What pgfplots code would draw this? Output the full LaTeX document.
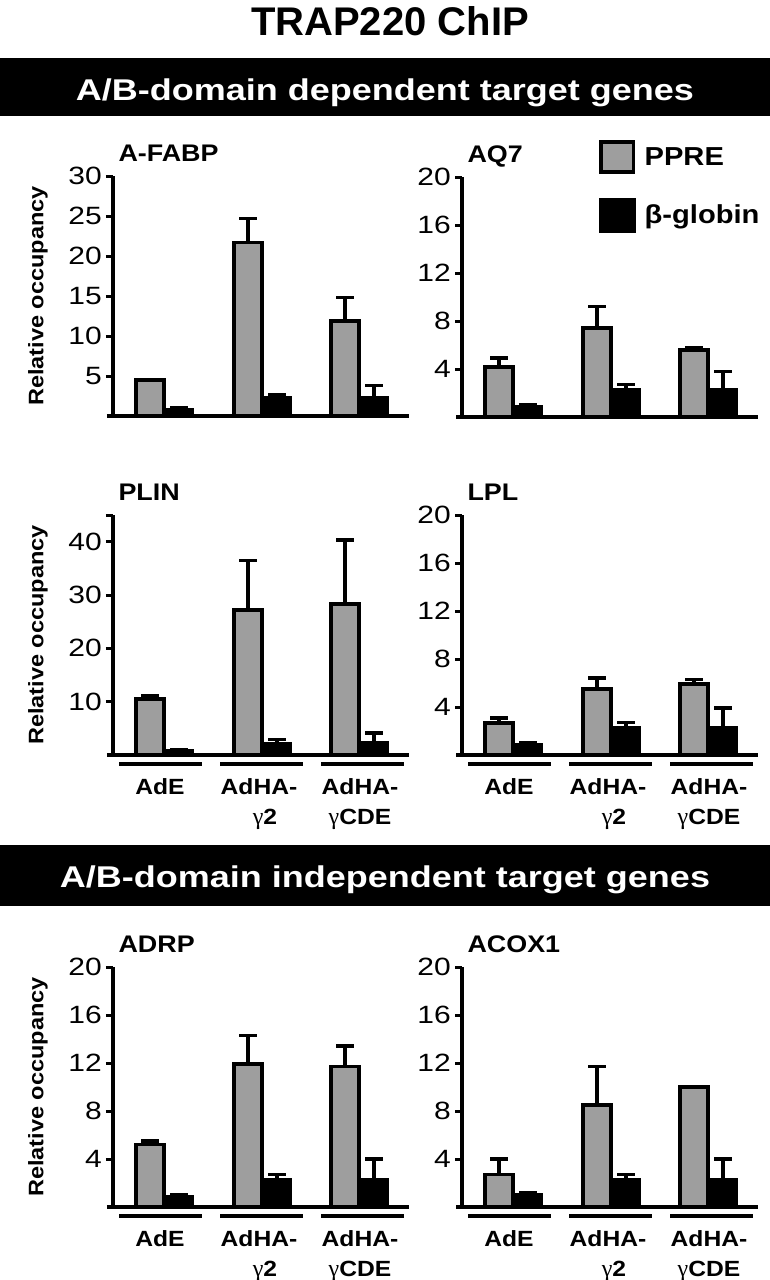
\documentclass[border=0pt]{standalone}
\usepackage{fontspec}
\setmainfont{Liberation Sans}
\newfontfamily\pf[FakeStretch=1.12]{Liberation Sans}
\newfontfamily\tf[FakeStretch=1.2]{Liberation Sans}
\newfontfamily\bannerfont[FakeStretch=1.2]{Liberation Sans}
\newfontfamily\gf{Liberation Serif}
\usepackage{pgfplots}
\pgfplotsset{compat=1.18}
\definecolor{barGray}{RGB}{158,158,158}
\pgfplotsset{
 panel/.style={
  scale only axis, width=296pt, height=240pt, xmin=0, xmax=296, ymin=0,
  anchor=south west, clip=false,
  axis x line=bottom, axis y line=left,
  axis line style={-, line width=4.5pt, black},
  x axis line style={shorten <=-6pt},
  tick align=outside, major tick length=7pt,
  ytick style={line width=3pt, black},
  xtick style={draw=none},
  xtick=\empty,
  yticklabel style={font=\tf\fontsize{25}{28}\selectfont, inner sep=2pt, xshift=-2pt},
  every axis y label/.style={at={(axis description cs:0,0.5)}, rotate=90, anchor=center, yshift=75pt, font=\pf\bfseries\fontsize{21}{24}\selectfont},
  title style={at={(axis description cs:0,1)}, anchor=base west, yshift=9pt, xshift=2pt, font=\pf\bfseries\fontsize{24}{28}\selectfont},
 },
 cats/.style={xtick={47,146,247},
  xticklabels={AdE,{AdHA-\\\hspace*{12pt}{\gf\mdseries\fontsize{24}{30}\selectfont γ}2},{AdHA-\\{\gf\mdseries\fontsize{24}{30}\selectfont γ}CDE}},
  xticklabel style={align=center, anchor=north, inner sep=0pt, yshift=-16pt,
   font=\pf\bfseries\fontsize{22}{30}\selectfont}},
 ppre/.style={ybar, bar width=28, bar shift=0pt, fill=barGray, draw=black, line width=3.5pt,
  error bars/y dir=plus, error bars/y explicit,
  error bars/error bar style={line width=3.5pt, black},
  error bars/error mark options={rotate=90, line width=3.5pt, mark size=9pt, black}},
 beta/.style={ybar, bar width=28, bar shift=0pt, fill=black, draw=black, line width=1pt,
  error bars/y dir=plus, error bars/y explicit,
  error bars/error bar style={line width=3.5pt, black},
  error bars/error mark options={rotate=90, line width=3.5pt, mark size=9pt, black}},
}
\newcommand{\catrules}{%
  \draw[line width=4.5pt] ([yshift=-9pt]axis cs:6,0) -- ([yshift=-9pt]axis cs:89,0);
  \draw[line width=4.5pt] ([yshift=-9pt]axis cs:107,0) -- ([yshift=-9pt]axis cs:190,0);
  \draw[line width=4.5pt] ([yshift=-9pt]axis cs:208,0) -- ([yshift=-9pt]axis cs:291,0);}
\begin{document}
\begin{tikzpicture}
\path[use as bounding box] (0,0) rectangle (770pt,-1280pt);
\node[font=\bfseries\fontsize{40}{44}\selectfont, anchor=base] at (390pt,-35pt) {TRAP220 ChIP};
\fill[black] (0pt,-58pt) rectangle (770pt,-116pt);
\node[text=white, font=\bannerfont\bfseries\fontsize{30}{34}\selectfont, anchor=base] at (385pt,-100pt) {A/B-domain dependent target genes};
\fill[black] (0pt,-845pt) rectangle (770pt,-906pt);
\node[text=white, font=\bannerfont\bfseries\fontsize{30}{34}\selectfont, anchor=base] at (385pt,-887pt) {A/B-domain independent target genes};

% A-FABP
\begin{axis}[panel, at={(113pt,-416pt)}, ymax=30, ytick={5,10,15,20,25,30},
  yticklabels={5,10,15,20,25,30}, ylabel={Relative occupancy}, title={A-FABP}]
\addplot[ppre] coordinates {(37,4.5) +- (0,0) (135,21.7) +- (0,3.0) (232,11.9) +- (0,2.9)};
\addplot[beta] coordinates {(66,1.0) +- (0,0) (164,2.4) +- (0,0.25) (261,2.4) +- (0,1.4)};
\end{axis}

% AQ7
\begin{axis}[panel, at={(462pt,-417pt)}, ymax=20, ytick={4,8,12,16,20},
  yticklabels={4,8,12,16,20}, title={AQ7},
  legend style={draw=none, fill=none, at={(axis description cs:0.463,1.154)}, anchor=north west,
   font=\pf\bfseries\fontsize{26}{30}\selectfont, row sep=24pt, inner sep=0pt,
   /tikz/every odd column/.append style={column sep=7pt}},
  legend cell align=left]
\addlegendimage{legend image code/.code={\draw[fill=barGray, line width=3.5pt] (1.75pt,-15pt) rectangle (34.25pt,15pt);}}
\addlegendentry{PPRE}
\addlegendimage{legend image code/.code={\fill[black] (0pt,-17pt) rectangle (36pt,17pt);}}
\addlegendentry{β-globin}
\addplot[ppre, forget plot] coordinates {(37,4.15) +- (0,0.75) (135,7.4) +- (0,1.8) (232,5.6) +- (0,0.2)};
\addplot[beta, forget plot] coordinates {(66,1.0) +- (0,0) (164,2.35) +- (0,0.35) (261,2.35) +- (0,1.45)};
\end{axis}

% PLIN
\begin{axis}[panel, cats, at={(113pt,-755pt)}, ymax=45, ytick={10,20,30,40,45},
  yticklabels={10,20,30,40,{}}, ylabel={Relative occupancy}, title={PLIN}]
\addplot[ppre] coordinates {(37,10.5) +- (0,0.6) (135,27.2) +- (0,9.3) (232,28.3) +- (0,12.0)};
\addplot[beta] coordinates {(66,1.0) +- (0,0) (164,2.3) +- (0,0.6) (261,2.6) +- (0,1.5)};
\catrules
\end{axis}

% LPL
\begin{axis}[panel, cats, at={(462pt,-755pt)}, ymax=20, ytick={4,8,12,16,20},
  yticklabels={4,8,12,16,20}, title={LPL}]
\addplot[ppre] coordinates {(37,2.65) +- (0,0.45) (135,5.5) +- (0,0.9) (232,5.9) +- (0,0.4)};
\addplot[beta] coordinates {(66,1.0) +- (0,0) (164,2.35) +- (0,0.35) (261,2.4) +- (0,1.5)};
\catrules
\end{axis}

% ADRP
\begin{axis}[panel, cats, at={(113pt,-1207pt)}, ymax=20, ytick={4,8,12,16,20},
  yticklabels={4,8,12,16,20}, ylabel={Relative occupancy}, title={ADRP}]
\addplot[ppre] coordinates {(37,5.2) +- (0,0.3) (135,11.9) +- (0,2.4) (232,11.7) +- (0,1.7)};
\addplot[beta] coordinates {(66,1.0) +- (0,0) (164,2.35) +- (0,0.35) (261,2.4) +- (0,1.6)};
\catrules
\end{axis}

% ACOX1
\begin{axis}[panel, cats, at={(462pt,-1207pt)}, ymax=20, ytick={4,8,12,16,20},
  yticklabels={4,8,12,16,20}, title={ACOX1}]
\addplot[ppre] coordinates {(37,2.7) +- (0,1.3) (135,8.5) +- (0,3.2) (232,10.0) +- (0,0)};
\addplot[beta] coordinates {(66,1.15) +- (0,0) (164,2.35) +- (0,0.35) (261,2.4) +- (0,1.6)};
\catrules
\end{axis}
\end{tikzpicture}
\end{document}
